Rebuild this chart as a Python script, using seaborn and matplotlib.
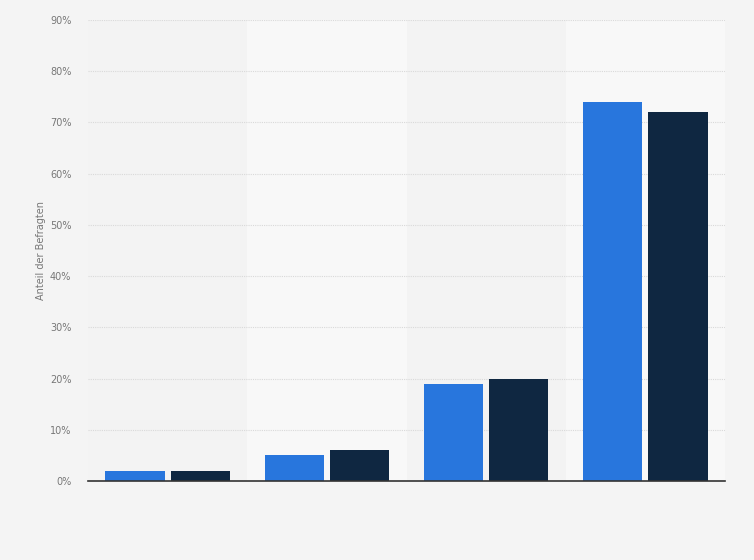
import pandas as pd
import matplotlib.pyplot as plt
import matplotlib.ticker as mtick
import seaborn as sns

# Daten
kategorien = ["Kategorie 1", "Kategorie 2", "Kategorie 3", "Kategorie 4"]
serie_a = [2, 5, 19, 74]
serie_b = [2, 6, 20, 72]
serien = ["Serie A", "Serie B"]
y_ticks = [0, 10, 20, 30, 40, 50, 60, 70, 80, 90]

df = pd.DataFrame({
    "Kategorie": kategorien * 2,
    "Wert": serie_a + serie_b,
    "Serie": [serien[0]] * len(kategorien) + [serien[1]] * len(kategorien),
})

sns.set_theme(style="white")
plt.rcParams["font.family"] = ["DejaVu Sans"]

fig = plt.figure(figsize=(7.54, 5.6), dpi=100)
fig.patch.set_facecolor("#f4f4f4")
ax = fig.add_axes([88 / 754, 1 - 481 / 560, (725 - 88) / 754, (481 - 20) / 560])
ax.set_facecolor("#f3f3f3")

# abwechselnde Hintergrundstreifen
for i in range(len(kategorien)):
    if i % 2 == 1:
        ax.axvspan(i - 0.5, i + 0.5, color="#f8f8f8", zorder=0, lw=0)

sns.barplot(data=df, x="Kategorie", y="Wert", hue="Serie",
            palette=["#2876dd", "#0f2741"], saturation=1, width=0.82, gap=0.09,
            legend=False, ax=ax, zorder=3, linewidth=0)

ax.set_xlim(-0.5, len(kategorien) - 0.5)
ax.set_ylim(0, 90)
ax.set_yticks(y_ticks)
ax.yaxis.set_major_formatter(mtick.FuncFormatter(lambda v, p: f"{v:.0f}%"))
ax.tick_params(axis="y", labelsize=7, colors="#777777", length=0, pad=12)
ax.tick_params(axis="x", length=0, labelbottom=False)
ax.grid(axis="y", color="#d9d9d9", linestyle=(0, (1, 1)), linewidth=0.8, zorder=1)
ax.set_axisbelow(True)

for s in ["top", "right", "left"]:
    ax.spines[s].set_visible(False)
ax.spines["bottom"].set_color("#333333")
ax.spines["bottom"].set_linewidth(1.2)
ax.spines["bottom"].set_zorder(5)

ax.set_xlabel("")
ax.set_ylabel("Anteil der Befragten", fontsize=7, color="#777777", labelpad=3)

fig.savefig("out.png", dpi=100, facecolor=fig.get_facecolor())
